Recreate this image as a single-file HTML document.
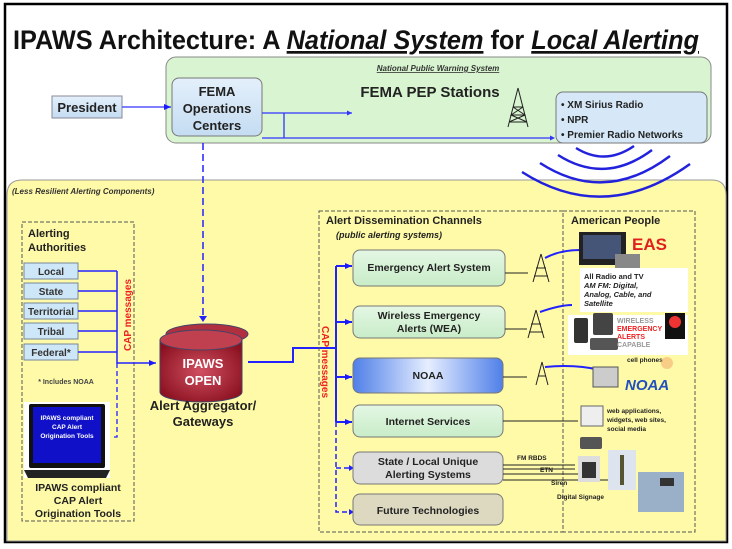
<!DOCTYPE html>
<html><head><meta charset="utf-8"><style>
html,body{margin:0;padding:0;background:#fff;width:732px;height:549px;overflow:hidden}
svg{display:block}
text{font-family:"Liberation Sans",sans-serif;font-weight:bold}
</style></head><body>
<svg width="732" height="549" viewBox="0 0 732 549" xmlns="http://www.w3.org/2000/svg">
<defs>
<marker id="a" markerUnits="userSpaceOnUse" markerWidth="8" markerHeight="8" refX="7" refY="4" orient="auto"><path d="M0,1L7,4L0,7z" fill="#1a1aff"/></marker>
<linearGradient id="g" x1="0" y1="0" x2="0" y2="1"><stop offset="0" stop-color="#e4f7e4"/><stop offset="1" stop-color="#c8ecc8"/></linearGradient>
<linearGradient id="bl" x1="0" y1="0" x2="1" y2="0"><stop offset="0" stop-color="#4f7fe8"/><stop offset=".5" stop-color="#e6eeff"/><stop offset="1" stop-color="#4f7fe8"/></linearGradient>
<linearGradient id="lb" x1="0" y1="0" x2="0" y2="1"><stop offset="0" stop-color="#e4f0fb"/><stop offset="1" stop-color="#c4dcf2"/></linearGradient>
<radialGradient id="cy" cx=".5" cy=".5" r=".6"><stop offset="0" stop-color="#d05060"/><stop offset="1" stop-color="#8a1020"/></radialGradient>
</defs>
<rect x="5" y="4" width="722" height="538" fill="#fff" stroke="#000" stroke-width="2.5"/>
<text x="13" y="49" font-size="27" fill="#111" textLength="686" lengthAdjust="spacingAndGlyphs">IPAWS Architecture: A <tspan font-style="italic" text-decoration="underline">National System</tspan> for <tspan font-style="italic" text-decoration="underline">Local Alerting</tspan></text>
<rect x="166" y="57" width="545" height="86" rx="10" fill="#d8f4d0" stroke="#888"/>
<text x="438" y="71" font-size="8" font-style="italic" text-anchor="middle" text-decoration="underline" fill="#333">National Public Warning System</text>
<rect x="52" y="96" width="70" height="22" fill="url(#lb)" stroke="#889"/>
<text x="87" y="112" font-size="13" text-anchor="middle" fill="#222">President</text>
<line x1="122" y1="107" x2="171" y2="107" stroke="#55f" stroke-width="1.5" marker-end="url(#a)"/>
<rect x="172" y="78" width="90" height="58" rx="7" fill="url(#lb)" stroke="#777"/>
<text x="217" y="96" font-size="13" text-anchor="middle" fill="#222">FEMA</text>
<text x="217" y="113" font-size="13" text-anchor="middle" fill="#222">Operations</text>
<text x="217" y="130" font-size="13" text-anchor="middle" fill="#222">Centers</text>
<text x="430" y="97" font-size="15" text-anchor="middle" fill="#222">FEMA PEP Stations</text>
<path d="M262,113H352M284,113V138M262,138H553" stroke="#33f" stroke-width="1.3" fill="none"/>
<path d="M352,113l-5,-2.5v5z" fill="#33f"/><path d="M555,138l-5,-2.5v5z" fill="#33f"/>
<g stroke="#222" stroke-width="1" fill="none"><path d="M518,88L508,127M518,88L528,127M513,107H523M511,115H525M509,122H527M513,107L525,115L509,122M523,107L511,115L527,122"/></g>
<rect x="556" y="92" width="151" height="51" rx="7" fill="#d6e8f8" stroke="#777"/>
<text x="561" y="108" font-size="10" fill="#222">• XM Sirius Radio</text>
<text x="561" y="123" font-size="10" fill="#222">• NPR</text>
<text x="561" y="138" font-size="10" fill="#222">• Premier Radio Networks</text>
<path d="M7,195Q7,180 22,180H712Q726,180 726,195V541H7z" fill="#fffaa8" stroke="#999"/>
<g stroke="#2222dd" stroke-width="2.5" fill="none">
<path d="M576,148Q605,166 634,146"/><path d="M558,155Q605,185 652,150"/><path d="M540,163Q605,205 670,156"/><path d="M522,172Q605,225 690,164"/>
</g>
<text x="12" y="194" font-size="8" font-style="italic" fill="#333">(Less Resilient Alerting Components)</text>
<line x1="203" y1="143" x2="203" y2="316" stroke="#22f" stroke-width="1.5" stroke-dasharray="7,4"/>
<path d="M203,322l-4,-6h8z" fill="#22f"/>
<rect x="22" y="222" width="112" height="299" fill="none" stroke="#555" stroke-dasharray="4,2"/>
<text x="28" y="237" font-size="11" fill="#222">Alerting</text>
<text x="28" y="251" font-size="11" fill="#222">Authorities</text>
<g font-size="10" fill="#333" text-anchor="middle">
<rect x="24" y="263" width="54" height="16" fill="#cde6f8" stroke="#789"/><text x="51" y="275">Local</text>
<rect x="24" y="283" width="54" height="16" fill="#cde6f8" stroke="#789"/><text x="51" y="295">State</text>
<rect x="24" y="303" width="54" height="16" fill="#cde6f8" stroke="#789"/><text x="51" y="315">Territorial</text>
<rect x="24" y="323" width="54" height="16" fill="#cde6f8" stroke="#789"/><text x="51" y="335">Tribal</text>
<rect x="24" y="344" width="54" height="16" fill="#cde6f8" stroke="#789"/><text x="51" y="356">Federal*</text>
</g>
<path d="M78,271H117M78,291H117M78,311H117M78,331H117M78,352H117M117,271V363H156" stroke="#22f" stroke-width="1.5" fill="none" marker-end="url(#a)"/>
<path d="M117,363V437H112" stroke="#22f" stroke-width="1.3" stroke-dasharray="5,3" fill="none"/>
<text transform="translate(131,315) rotate(-90)" font-size="10" fill="#e22" text-anchor="middle">CAP messages</text>
<text x="66" y="384" font-size="7" fill="#444" text-anchor="middle">* Includes NOAA</text>
<rect x="24" y="402" width="86" height="76" fill="#fff"/>
<rect x="29" y="404" width="76" height="64" rx="2" fill="#111"/>
<rect x="33" y="407" width="68" height="56" fill="#1010c8"/>
<path d="M24,470H110L106,478H28z" fill="#222"/>
<g font-size="6.5" fill="#fff" text-anchor="middle"><text x="67" y="420">IPAWS compliant</text><text x="67" y="429">CAP Alert</text><text x="67" y="438">Origination Tools</text></g>
<g font-size="10.5" fill="#222" text-anchor="middle"><text x="78" y="491">IPAWS compliant</text><text x="78" y="504">CAP Alert</text><text x="78" y="517">Origination Tools</text></g>
<ellipse cx="207" cy="334" rx="41" ry="10" fill="#b03040" stroke="#446"/>
<rect x="160" y="340" width="82" height="50" fill="url(#cy)"/>
<path d="M160,340V392A41,10 0 0 0 242,392V340" fill="url(#cy)" stroke="#446"/>
<ellipse cx="201" cy="340" rx="41" ry="10" fill="#c04050" stroke="#446"/>
<text x="203" y="368" font-size="13" fill="#fff" text-anchor="middle" font-weight="normal">IPAWS</text>
<text x="203" y="385" font-size="13" fill="#fff" text-anchor="middle" font-weight="normal">OPEN</text>
<text x="203" y="410" font-size="13" fill="#222" text-anchor="middle">Alert Aggregator/</text>
<text x="203" y="426" font-size="13" fill="#222" text-anchor="middle">Gateways</text>
<path d="M248,362H293V348H335" stroke="#22f" stroke-width="2" fill="none"/>
<rect x="319" y="211" width="244" height="321" fill="none" stroke="#555" stroke-dasharray="4,2"/>
<rect x="563" y="211" width="132" height="321" fill="none" stroke="#555" stroke-dasharray="4,2"/>
<text x="326" y="224" font-size="11" fill="#222">Alert Dissemination Channels</text>
<text x="336" y="238" font-size="9" font-style="italic" fill="#222">(public alerting systems)</text>
<text x="571" y="224" font-size="11" fill="#222">American People</text>
<text transform="translate(322,362) rotate(90)" font-size="10" fill="#e22" text-anchor="middle">CAP messages</text>
<path d="M336,266V422" stroke="#22f" stroke-width="2" fill="none"/>
<g stroke="#22f" stroke-width="2" marker-end="url(#a)">
<line x1="336" y1="266" x2="352" y2="266"/><line x1="336" y1="322" x2="352" y2="322"/><line x1="336" y1="377" x2="352" y2="377"/><line x1="336" y1="422" x2="352" y2="422"/>
</g>
<path d="M336,422V512H350M336,468H350" stroke="#22f" stroke-width="1.5" stroke-dasharray="5,3" fill="none"/>
<path d="M354,468l-5,-3v6zM354,512l-5,-3v6z" fill="#22f"/>
<g stroke="#777" fill="url(#g)">
<rect x="353" y="250" width="152" height="36" rx="7"/>
<rect x="353" y="306" width="152" height="32" rx="7"/>
<rect x="353" y="358" width="150" height="35" rx="7" fill="url(#bl)"/>
<rect x="353" y="405" width="150" height="32" rx="7"/>
<rect x="353" y="452" width="150" height="32" rx="7" fill="#dcdcdc"/>
<rect x="353" y="494" width="150" height="31" rx="7" fill="#dcd9c0"/>
</g>
<g font-size="10.5" fill="#222" text-anchor="middle">
<text x="429" y="271">Emergency Alert System</text>
<text x="429" y="319">Wireless Emergency</text><text x="429" y="332">Alerts (WEA)</text>
<text x="428" y="379">NOAA</text>
<text x="428" y="425">Internet Services</text>
<text x="428" y="465">State / Local Unique</text><text x="428" y="478">Alerting Systems</text>
<text x="428" y="514">Future Technologies</text>
</g>
<g stroke="#222" stroke-width="1" fill="none">
<path d="M505,273H528M505,329H527M503,377H527M503,421H578M503,465H575M503,469H575M503,474H600M503,480H625"/>
<path d="M541,254L533,282M541,254L549,282M536,268H546M534,276H548"/>
<path d="M536,310L528,338M536,310L544,338M531,324H541M529,332H543"/>
<path d="M542,362L536,385M542,362L548,385M538,376H546"/>
</g>
<path d="M545,258Q560,250 580,250M540,312Q560,305 572,305M545,367Q575,364 600,370" stroke="#22f" stroke-width="2" fill="none"/>
<g font-size="6.5" fill="#222"><text x="517" y="460">FM RBDS</text><text x="540" y="472">ETN</text><text x="551" y="485">Siren</text><text x="557" y="499">Digital Signage</text></g>
<rect x="579" y="232" width="47" height="33" fill="#222"/><rect x="583" y="235" width="38" height="24" fill="#445577"/>
<text x="632" y="250" font-size="17" fill="#e02020">EAS</text>
<rect x="615" y="254" width="25" height="14" fill="#888"/>
<rect x="580" y="268" width="108" height="44" fill="#fff"/>
<g font-size="7.5" fill="#222"><text x="584" y="279">All Radio and TV</text><text x="584" y="288" font-style="italic">AM FM: Digital,</text><text x="584" y="297" font-style="italic">Analog, Cable, and</text><text x="584" y="306" font-style="italic">Satellite</text></g>
<rect x="568" y="315" width="120" height="40" fill="#fff"/>
<rect x="574" y="318" width="14" height="25" rx="2" fill="#333"/><rect x="593" y="313" width="20" height="22" rx="2" fill="#444"/><rect x="590" y="338" width="28" height="12" rx="2" fill="#555"/>
<text x="617" y="323" font-size="7" fill="#999">WIRELESS</text><text x="617" y="331" font-size="7" fill="#e22">EMERGENCY</text><text x="617" y="339" font-size="7" fill="#e22">ALERTS</text><text x="617" y="347" font-size="7" fill="#999">CAPABLE</text>
<rect x="665" y="313" width="20" height="26" fill="#111"/><circle cx="675" cy="322" r="6" fill="#e33"/>
<text x="627" y="362" font-size="6.5" fill="#222">cell phones</text>
<rect x="593" y="367" width="25" height="20" fill="#ccc" stroke="#555"/>
<text x="625" y="390" font-size="15" font-style="italic" fill="#2050c0">NOAA</text>
<circle cx="667" cy="363" r="6" fill="#f4b070" opacity=".6"/>
<rect x="581" y="406" width="22" height="20" fill="#eee" stroke="#666"/>
<g font-size="6.5" fill="#222"><text x="607" y="413">web applications,</text><text x="607" y="422">widgets, web sites,</text><text x="607" y="431">social media</text></g>
<rect x="580" y="437" width="22" height="12" rx="2" fill="#555"/>
<rect x="578" y="456" width="22" height="26" fill="#ddd"/><rect x="582" y="462" width="14" height="16" fill="#333"/>
<rect x="608" y="450" width="28" height="40" fill="#dde4ee"/><rect x="620" y="455" width="4" height="30" fill="#553"/>
<rect x="638" y="472" width="46" height="40" fill="#9ab0c8"/><rect x="660" y="478" width="14" height="8" fill="#333"/>
</svg>
</body></html>
